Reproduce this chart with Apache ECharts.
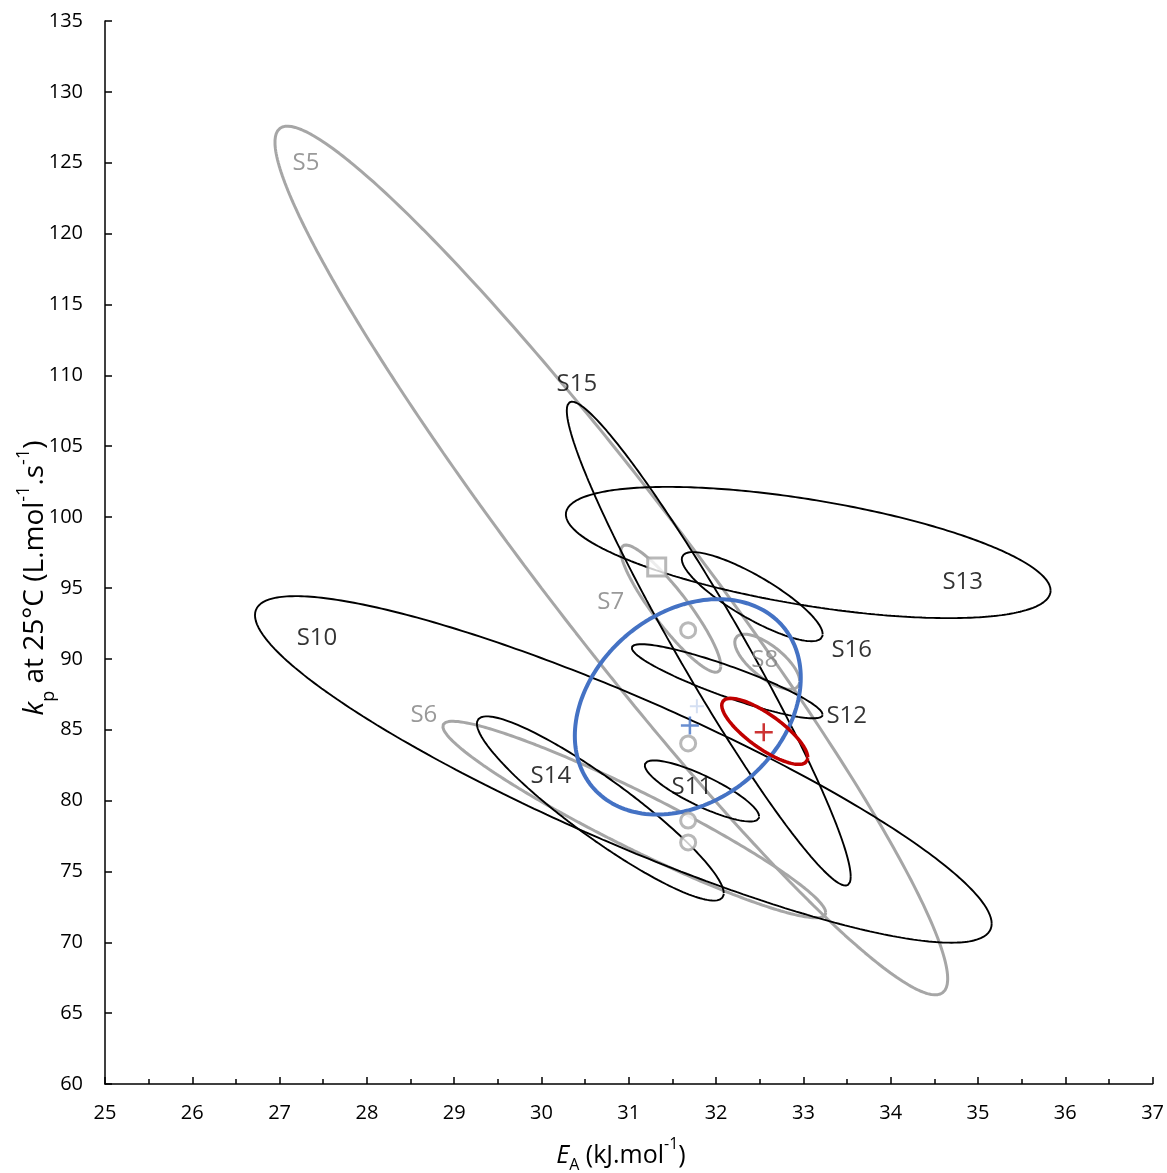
<!DOCTYPE html>
<html><head><meta charset="utf-8">
<script src="https://cdn.jsdelivr.net/npm/echarts@6/dist/echarts.min.js"></script>
<style>html,body{margin:0;padding:0;background:#fff}#c{width:1167px;height:1173px}</style>
</head><body><div id="c"></div>
<script>
// Confidence ellipses: bounding extents and correlation (cos of phase)
const ellipseNames = ['S5','S6','S7','S8','S10','S11','S12','S13','S14','S15','S16','Blue','Red'];
const ellXMin = [26.947, 28.870, 30.909, 32.214, 26.718, 31.183, 31.034, 30.279, 29.26, 30.29, 31.607, 30.382, 32.065];
const ellXMax = [34.653, 33.256, 32.054, 32.958, 35.157, 32.494, 33.221, 35.832, 32.088, 33.542, 33.221, 32.970, 33.05];
const ellYMin = [66.29, 71.73, 89.05, 87.85, 69.97, 78.52, 85.80, 92.87, 72.94, 74.00, 91.24, 79.01, 82.55];
const ellYMax = [127.58, 85.59, 98.03, 91.74, 94.42, 82.83, 91.03, 102.13, 85.94, 108.14, 97.53, 94.21, 87.21];
const ellRho  = [-0.963, -0.948, -0.9, -0.707, -0.890, -0.838, -0.9, -0.58, -0.92, -0.963, -0.841, 0.27, -0.79];

// Point markers
const circleX = [31.68, 31.68, 31.68, 31.68];
const circleY = [92.02, 84.03, 78.59, 77.04];
const squareX = [31.32];
const squareY = [96.47];
const bluePlus = [31.70, 85.3];
const bluePlusFaint = [31.78, 86.65];
const redPlus = [32.546, 84.81];

// Text labels
const labelNames = ['S5','S6','S7','S8','S10','S11','S12','S13','S14','S15','S16'];
const labelX = [27.302, 28.653, 30.794, 32.557, 27.428, 31.722, 33.497, 34.825, 30.107, 30.405, 33.554];
const labelY = [124.96, 86.01, 94.00, 89.90, 91.46, 80.92, 85.94, 95.41, 81.70, 109.41, 90.61];

const grayNames = ['S5','S6','S7','S8'];
const GRAY = '#a6a6a6', GRAYTXT = '#7f7f7f';
const FONT = 'Open Sans';

function ellipsePoints(i){
  const cx=(ellXMin[i]+ellXMax[i])/2, rx=(ellXMax[i]-ellXMin[i])/2;
  const cy=(ellYMin[i]+ellYMax[i])/2, ry=(ellYMax[i]-ellYMin[i])/2;
  const phi=Math.acos(ellRho[i]);
  const pts=[]; const N=360;
  for(let k=0;k<=N;k++){const t=2*Math.PI*k/N; pts.push([cx+rx*Math.cos(t), cy+ry*Math.cos(t-phi)]);}
  return pts;
}

const series = [];
ellipseNames.forEach((n,i)=>{
  let color='#000', width=1.9, z=2;
  if(grayNames.includes(n)){color=GRAY; width=3;}
  if(n==='Blue'){color='#4472c4'; width=4; z=3;}
  if(n==='Red'){color='#c00000'; width=3.5; z=3;}
  series.push({type:'line', name:n, data:ellipsePoints(i), showSymbol:false, smooth:false,
    lineStyle:{color, width}, z, silent:true, clip:false});
});

const plusPath = 'path://M-1.4,-10 L1.4,-10 L1.4,-1.4 L10,-1.4 L10,1.4 L1.4,1.4 L1.4,10 L-1.4,10 L-1.4,1.4 L-10,1.4 L-10,-1.4 L-1.4,-1.4 Z';

series.push({type:'scatter', data:circleX.map((x,i)=>[x,circleY[i]]), symbol:'circle', symbolSize:15,
  itemStyle:{color:'#fff', borderColor:GRAY, borderWidth:3}, z:5});
series.push({type:'scatter', data:squareX.map((x,i)=>[x,squareY[i]]), symbol:'rect', symbolSize:18,
  itemStyle:{color:'#fff', borderColor:GRAY, borderWidth:3}, z:5});
series.push({type:'scatter', data:[bluePlusFaint], symbol:plusPath, symbolSize:14, itemStyle:{color:'#c9d7ef'}, z:5});
series.push({type:'scatter', data:[bluePlus], symbol:plusPath, symbolSize:18, itemStyle:{color:'#4472c4'}, z:6});
series.push({type:'scatter', data:[redPlus], symbol:plusPath, symbolSize:18, itemStyle:{color:'#c00000'}, z:6});

series.push({type:'scatter', symbolSize:0, z:7, silent:true,
  data:labelNames.map((n,i)=>({value:[labelX[i],labelY[i]], name:n,
    label:{color: grayNames.includes(n)?GRAYTXT:'#000'}})),
  label:{show:true, position:'inside', formatter:p=>p.name, fontSize:24, fontFamily:FONT}
});

function richFor(sz, drop){
  const s=Math.round(sz*0.65);
  return {
    i:{fontSize:sz, fontStyle:'italic', fontFamily:FONT, lineHeight:sz+7, verticalAlign:'bottom', fill:'#000'},
    n:{fontSize:sz, fontFamily:FONT, lineHeight:sz+7, verticalAlign:'bottom', fill:'#000'},
    sub:{fontSize:s, fontFamily:FONT, lineHeight:s+7, verticalAlign:'bottom', padding:[0,0,-drop,0], fill:'#000'},
    sup:{fontSize:s, fontFamily:FONT, lineHeight:sz+7, verticalAlign:'top', fill:'#000'}
  };
}

const chart = echarts.init(document.getElementById('c'), null, {renderer:'canvas'});
chart.setOption({
  animation:false,
  backgroundColor:'#fff',
  grid:{left:105, right:14, top:21, bottom:89, containLabel:false},
  xAxis:{type:'value', min:25, max:37, interval:1,
    axisLine:{show:true, lineStyle:{color:'#000', width:1.5}},
    axisTick:{show:true, inside:true, length:7, lineStyle:{color:'#000', width:1.5}},
    minorTick:{show:true, splitNumber:2, length:5, lineStyle:{color:'#000', width:1.5}},
    splitLine:{show:false}, minorSplitLine:{show:false},
    axisLabel:{fontSize:20, color:'#000', fontFamily:FONT, margin:19}
  },
  yAxis:{type:'value', min:60, max:135, interval:5,
    axisLine:{show:true, lineStyle:{color:'#000', width:1.5}},
    axisTick:{show:true, inside:true, length:7, lineStyle:{color:'#000', width:1.5}},
    splitLine:{show:false},
    axisLabel:{fontSize:20, color:'#000', fontFamily:FONT, margin:22}
  },
  graphic:[
    {type:'text', x:621, y:1152, style:{text:'{i|E}{sub|A}{n| (kJ.mol}{sup|-1}{n|)}', rich:richFor(25, 5), align:'center', verticalAlign:'middle'}},
    {type:'text', x:32, y:578, rotation:Math.PI/2, style:{text:'{i|k}{sub|p}{n| at 25°C (L.mol}{sup|-1}{n|.s}{sup|-1}{n|)}', rich:richFor(28, 8), align:'center', verticalAlign:'middle'}}
  ],
  series
});
</script></body></html>
